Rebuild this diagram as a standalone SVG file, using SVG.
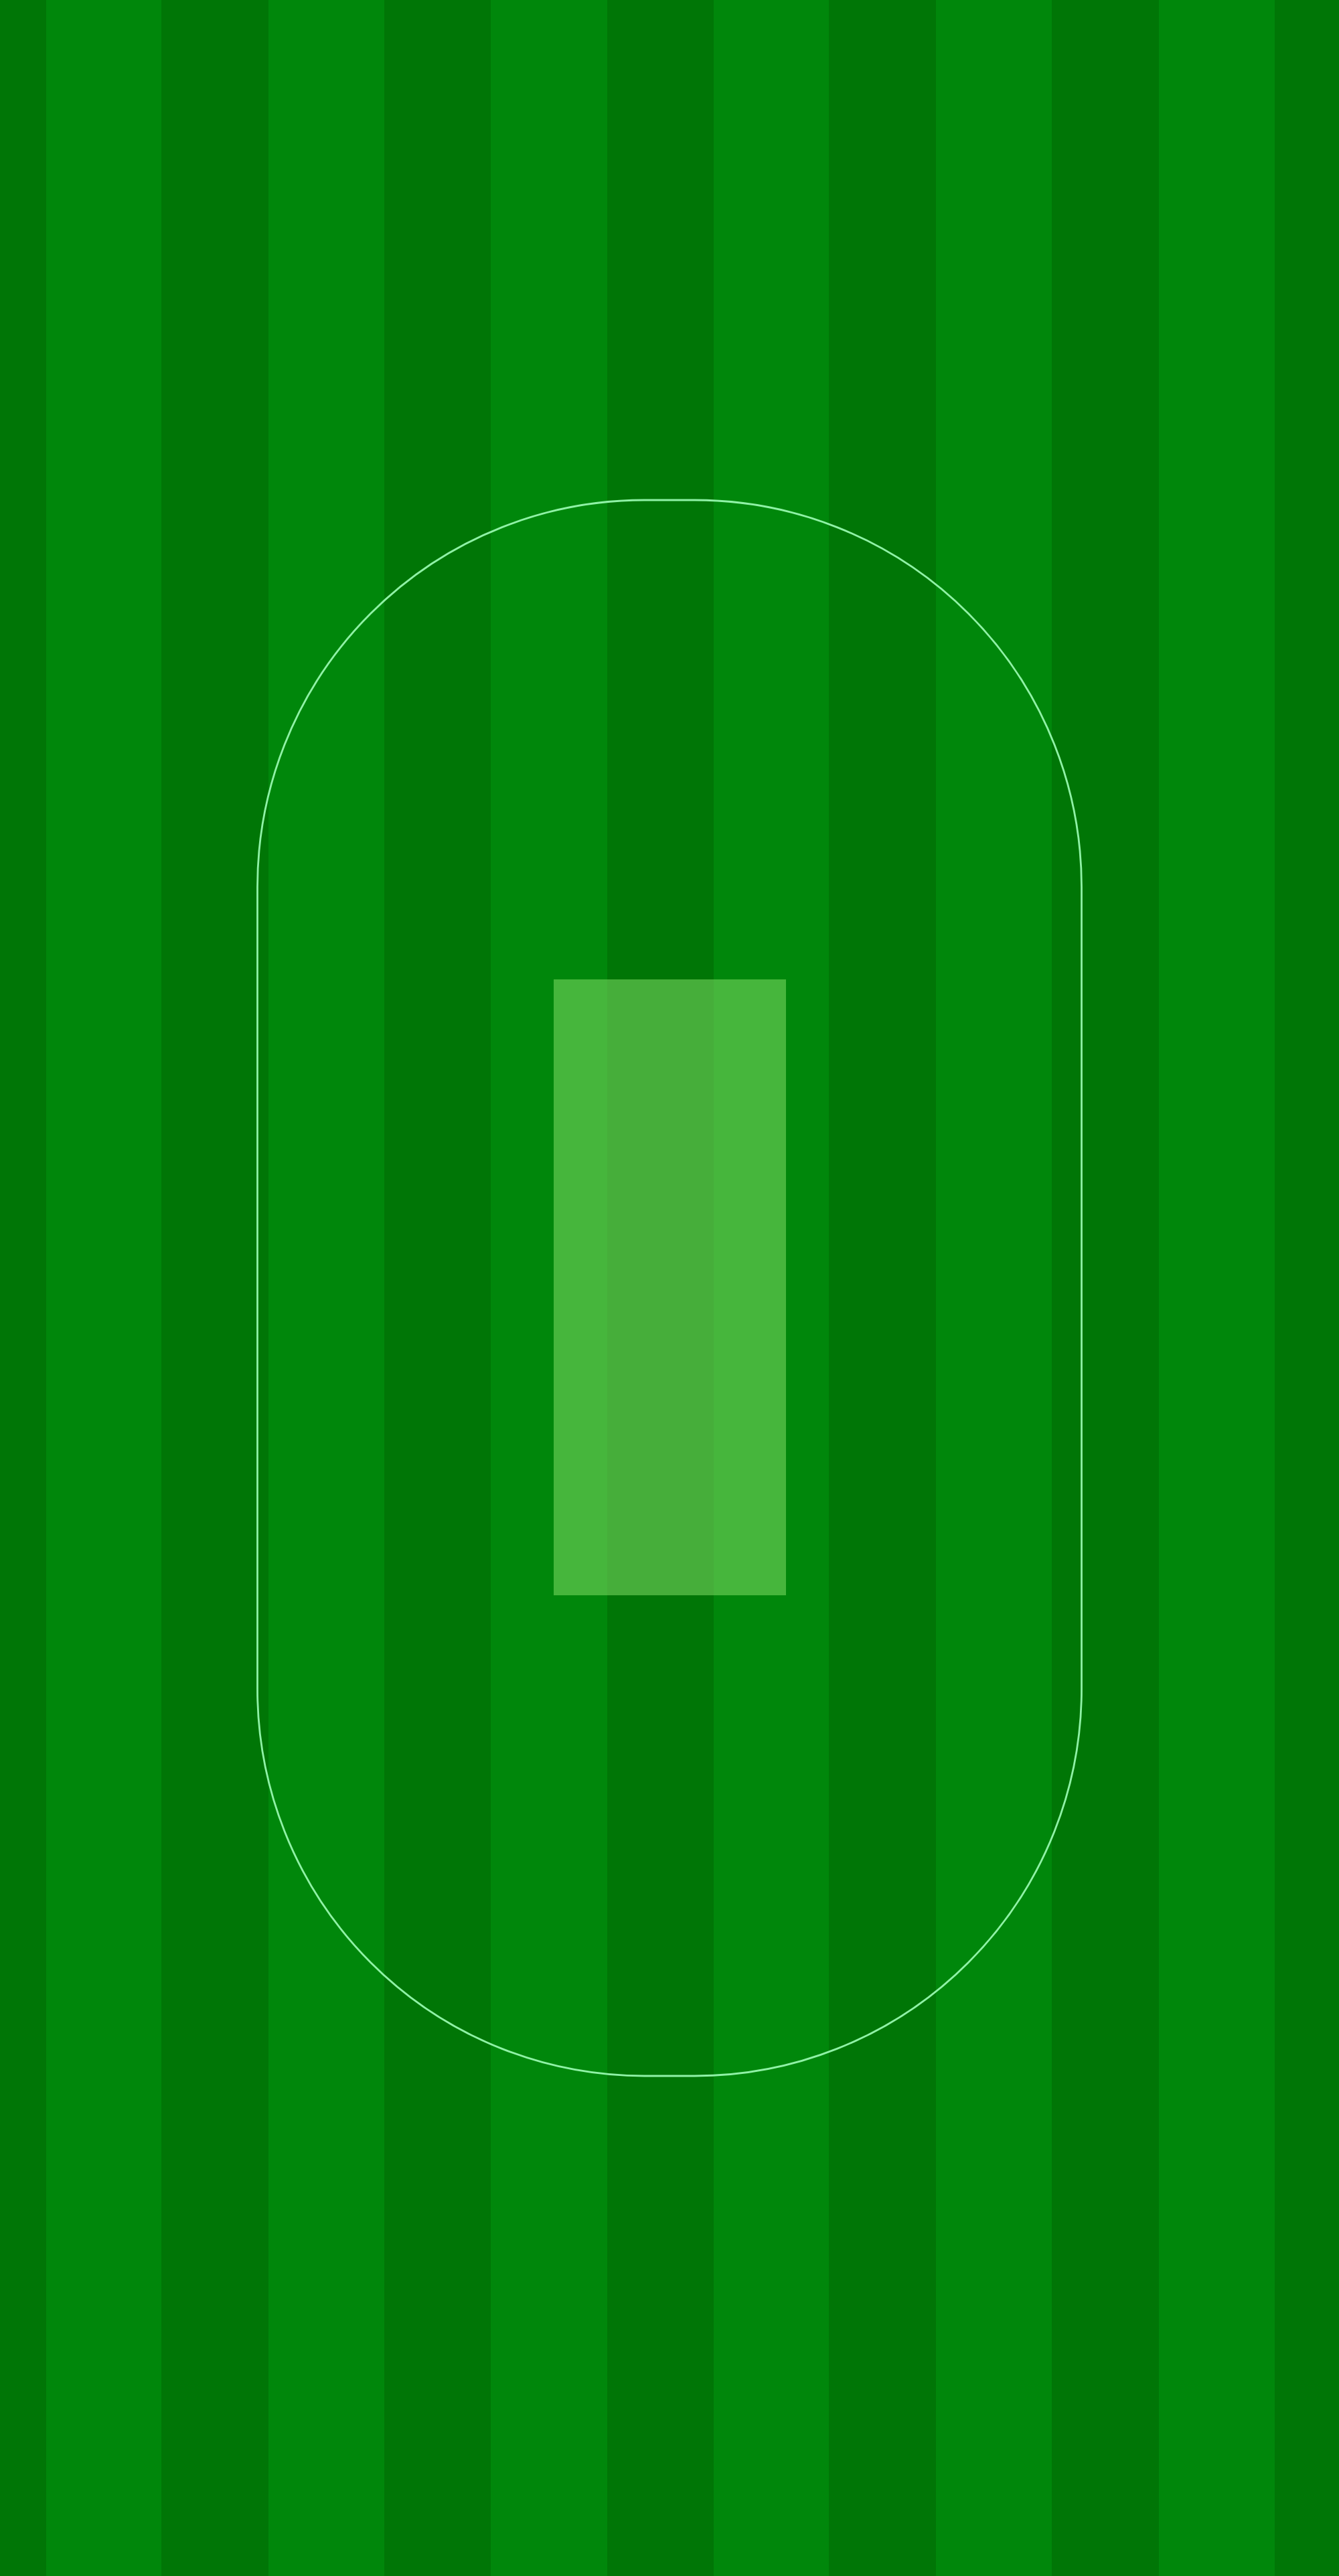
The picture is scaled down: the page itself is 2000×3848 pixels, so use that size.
<svg xmlns="http://www.w3.org/2000/svg" width="2000" height="3848" viewBox="0 0 2000 3848">
<style>
.d{fill:#007606}
.l{fill:#00870b}
.boundary{fill:none;stroke:#8ff2a6;stroke-width:2.8}
.pitch{fill:rgb(140,230,110);fill-opacity:0.5}
</style>
<g id="stripes">
<rect class="d" x="0" y="0" width="2000" height="3848"/>
<rect class="l" x="69" y="0" width="172" height="3848"/>
<rect class="l" x="401" y="0" width="173" height="3848"/>
<rect class="l" x="733" y="0" width="174" height="3848"/>
<rect class="l" x="1066" y="0" width="172" height="3848"/>
<rect class="l" x="1398" y="0" width="173" height="3848"/>
<rect class="l" x="1731" y="0" width="173" height="3848"/>
</g>
<g id="boundary">
<rect class="boundary" x="384.5" y="747" width="1231" height="2354" rx="578" ry="578"/>
</g>
<g id="pitch">
<rect class="pitch" x="827" y="1463" width="347" height="920"/>
</g>
</svg>
